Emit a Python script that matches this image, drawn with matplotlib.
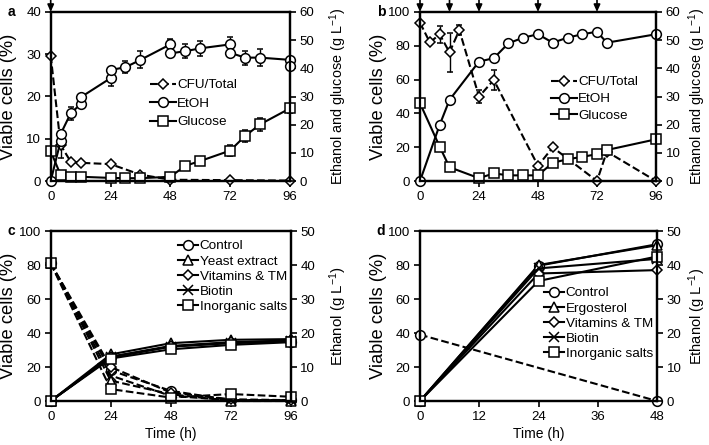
import matplotlib
matplotlib.use('Agg')
import matplotlib.pyplot as plt
from matplotlib.lines import Line2D
from matplotlib import font_manager

_names = {f.name for f in font_manager.fontManager.ttflist}
NARROW = 'Liberation Sans Narrow' in _names
if NARROW:
    HFONT = ['Liberation Sans Narrow', 'Liberation Sans', 'DejaVu Sans']
    FS_TICK, FS_LEG, FS_XLAB, FS_LET = 11.0, 11.5, 11.5, 11.0
else:
    HFONT = ['Liberation Sans', 'DejaVu Sans']
    FS_TICK, FS_LEG, FS_XLAB, FS_LET = 9.5, 9.7, 10.0, 10.0
VFONT = ['Liberation Sans', 'DejaVu Sans']

plt.rcParams.update({
    'font.family': HFONT,
    'font.size': FS_TICK,
    'mathtext.fontset': 'custom',
    'mathtext.rm': 'Liberation Sans',
    'mathtext.it': 'Liberation Sans:italic',
    'mathtext.bf': 'Liberation Sans:bold',
})

# ---------------- data ----------------
# Panel a
cfu_a_t = [0, 4, 8, 12, 24, 36, 48, 72, 96]
cfu_a = [29.7, 8.5, 4.6, 4.3, 4.0, 1.5, 0.3, 0.2, 0.1]
cfu_a_err = [0, 3.0, 0, 0, 0, 0, 0, 0, 0]
etoh_a_t = [0, 4, 4, 8, 12, 12, 24, 24, 30, 36, 48, 48, 54, 60, 72, 72, 78, 84, 96, 96]
etoh_a = [0, 14.3, 16.7, 24.0, 27.3, 29.7, 36.5, 39.4, 40.4, 43.0, 48.5, 45.3,
          46.1, 47.1, 48.5, 45.5, 43.8, 43.8, 43.0, 40.8]
etoh_a_err = [0, 0, 0, 2.3, 0, 0, 2.8, 0, 2.2, 3.0, 2.0, 0, 2.5, 2.7, 2.7, 0, 2.5, 3.0, 0, 0]
glu_a_t = [0, 4, 8, 12, 24, 30, 36, 48, 54, 60, 72, 78, 84, 96]
glu_a = [10.6, 2.1, 1.3, 1.5, 1.1, 1.0, 1.0, 1.5, 5.4, 7.1, 10.8, 16.0, 20.1, 25.8]
glu_a_err = [0, 0, 0, 0, 0, 0, 0, 0, 0, 1.2, 2.0, 2.0, 2.2, 1.5]
feed_a = [0]

# Panel b
cfu_b_t = [0, 4, 8, 12, 16, 24, 30, 48, 54, 72, 76, 96]
cfu_b = [93.7, 82.0, 86.8, 76.1, 89.3, 49.9, 59.8, 9.0, 19.9, 0.0, 17.4, 0.0]
cfu_b_err = [0, 0, 5.0, 11.5, 3.0, 4.0, 6.0, 0, 0, 0, 0, 0]
etoh_b_t = [0, 8, 12, 24, 30, 36, 42, 48, 54, 60, 66, 72, 76, 96]
etoh_b = [0, 19.9, 28.8, 42.4, 43.6, 48.9, 50.9, 52.1, 49.1, 50.9, 52.1, 53.0, 49.1, 52.1]
glu_b_t = [0, 8, 12, 24, 30, 36, 42, 48, 54, 60, 66, 72, 76, 96]
glu_b = [27.6, 12.2, 4.9, 1.0, 2.7, 2.0, 2.0, 2.0, 6.5, 7.7, 8.6, 9.5, 11.0, 14.8]
feed_b = [0, 12, 24, 48, 72]

# Panel c
t_c = [0, 24, 48, 72, 96]
labels_c = ['Control', 'Yeast extract', 'Vitamins & TM', 'Biotin', 'Inorganic salts']
via_c = {
    'Control':         [81, 18, 6, 0.5, 0.5],
    'Yeast extract':   [81, 12, 4, 0, 0],
    'Vitamins & TM':   [81, 20, 5, 1, 0.5],
    'Biotin':          [81, 15, 3, 0.5, 0.5],
    'Inorganic salts': [81, 7, 2, 4.1, 2.5],
}
eth_c = {
    'Control':         [0, 13.0, 16.0, 17.0, 17.5],
    'Yeast extract':   [0, 13.7, 17.0, 18.0, 18.2],
    'Vitamins & TM':   [0, 13.0, 16.2, 17.3, 17.8],
    'Biotin':          [0, 12.8, 16.0, 17.2, 17.7],
    'Inorganic salts': [0, 12.5, 15.2, 16.5, 17.3],
}

# Panel d
t_d = [0, 24, 48]
labels_d = ['Control', 'Ergosterol', 'Vitamins & TM', 'Biotin', 'Inorganic salts']
via_d_t = [0, 48]
via_d = [39, 0]
eth_d = {
    'Control':         [0, 39.8, 46.1],
    'Ergosterol':      [0, 40.0, 45.8],
    'Vitamins & TM':   [0, 37.5, 38.5],
    'Biotin':          [0, 39.0, 41.8],
    'Inorganic salts': [0, 35.3, 42.5],
}

markers_c = {'Control': 'o', 'Yeast extract': '^', 'Ergosterol': '^',
             'Vitamins & TM': 'D', 'Biotin': 'x', 'Inorganic salts': 's'}
msize = {'o': 7, '^': 7, 'D': 5, 'x': 6.5, 's': 7}

W, H = 709, 445
fig = plt.figure(figsize=(W / 100, H / 100), dpi=100)


def px_axes(l, t, r, b):
    return fig.add_axes([l / W, 1 - b / H, (r - l) / W, (b - t) / H])


def style(ax):
    for s in ax.spines.values():
        s.set_linewidth(1.6)
    ax.tick_params(direction='out', length=4, width=1.2, labelsize=FS_TICK, pad=3)


def mk(m):
    return dict(marker=m, markersize=msize[m], mfc='white', mec='black',
                mew=1.1, color='black', clip_on=False)


def arrows(ax, ts):
    for t in ts:
        ax.annotate('', xy=(t, 1.0), xycoords=('data', 'axes fraction'),
                    xytext=(t, 1.075), textcoords=('data', 'axes fraction'),
                    arrowprops=dict(arrowstyle='-|>,head_length=0.45,head_width=0.2',
                                    lw=1.2, color='k', shrinkA=0, shrinkB=0),
                    annotation_clip=False)


def setup(ax, ax2, xt, ylim, yt, ylim2, yt2, left_lab, right_lab, rfs, rx,
          letter, time_label):
    style(ax)
    style(ax2)
    ax.set_xlim(xt[0], xt[-1])
    ax.set_xticks(xt)
    ax.set_ylim(*ylim)
    ax.set_yticks(yt)
    ax2.set_ylim(*ylim2)
    ax2.set_yticks(yt2)
    ax.set_ylabel(left_lab, fontsize=13.2, family=VFONT)
    ax.yaxis.set_label_coords(-0.14, 0.5)
    ax2.set_ylabel(right_lab, fontsize=rfs, family=VFONT)
    ax2.yaxis.set_label_coords(rx, 0.5)
    if time_label:
        ax.set_xlabel('Time (h)', fontsize=FS_XLAB)
        ax.xaxis.set_label_coords(0.5, -0.155)
    ax.text(-0.165, 1.0, letter, transform=ax.transAxes, fontsize=FS_LET,
            fontweight='bold', ha='center', va='center', family=VFONT)


def legend(ax, handles, labels, x, y, spacing, hl):
    ax.legend(handles, labels, loc='upper left', bbox_to_anchor=(x / W, 1 - y / H),
              bbox_transform=fig.transFigure, frameon=False, fontsize=FS_LEG,
              handlelength=hl, handletextpad=0.1, labelspacing=spacing,
              borderpad=0, borderaxespad=0)


# ---------------- panel a ----------------
ax = px_axes(50.7, 12, 290, 181)
ax2 = ax.twinx()
ax.errorbar(cfu_a_t, cfu_a, yerr=cfu_a_err, ls='--', lw=1.5, capsize=2, elinewidth=1,
            **mk('D'))
ax2.errorbar(etoh_a_t, etoh_a, yerr=etoh_a_err, ls='-', lw=1.5, capsize=2, elinewidth=1,
             **mk('o'))
ax2.errorbar(glu_a_t, glu_a, yerr=glu_a_err, ls='-', lw=1.5, capsize=2, elinewidth=1,
             **mk('s'))
setup(ax, ax2, [0, 24, 48, 72, 96], (0, 40), [0, 10, 20, 30, 40], (0, 60),
      [0, 10, 20, 30, 40, 50, 60], 'Viable cells (%)',
      r'Ethanol and glucose (g L$^{-1}$)', 10.4, 1.155, 'a', False)
arrows(ax, feed_a)
h = [Line2D([], [], ls='--', lw=1.5, **mk('D')), Line2D([], [], ls='-', lw=1.5, **mk('o')),
     Line2D([], [], ls='-', lw=1.5, **mk('s'))]
legend(ax2, h, ['CFU/Total', 'EtOH', 'Glucose'], 150, 79, 0.45, 1.9)

# ---------------- panel b ----------------
ax = px_axes(420, 12, 656, 181)
ax2 = ax.twinx()
ax.errorbar(cfu_b_t, cfu_b, yerr=cfu_b_err, ls='--', lw=1.5, capsize=2, elinewidth=1,
            **mk('D'))
ax2.plot(etoh_b_t, etoh_b, ls='-', lw=1.5, **mk('o'))
ax2.plot(glu_b_t, glu_b, ls='-', lw=1.5, **mk('s'))
setup(ax, ax2, [0, 24, 48, 72, 96], (0, 100), [0, 20, 40, 60, 80, 100], (0, 60),
      [0, 10, 20, 30, 40, 50, 60], 'Viable cells (%)',
      r'Ethanol and glucose (g L$^{-1}$)', 10.4, 1.13, 'b', False)
arrows(ax, feed_b)
legend(ax2, h, ['CFU/Total', 'EtOH', 'Glucose'], 551, 76, 0.33, 1.9)

# ---------------- panel c ----------------
ax = px_axes(50.7, 231, 290.7, 401)
ax2 = ax.twinx()
for lab in labels_c:
    ax.plot(t_c, via_c[lab], ls='--', lw=1.5, **mk(markers_c[lab]))
for lab in labels_c:
    ax2.plot(t_c, eth_c[lab], ls='-', lw=1.5, **mk(markers_c[lab]))
setup(ax, ax2, t_c, (0, 100), [0, 20, 40, 60, 80, 100], (0, 50),
      [0, 10, 20, 30, 40, 50], 'Viable cells (%)', r'Ethanol (g L$^{-1}$)', 10.8, 1.152,
      'c', True)
hc = [Line2D([], [], ls='-', lw=1.5, **mk(markers_c[l])) for l in labels_c]
legend(ax2, hc, labels_c, 178, 240, 0.2, 1.5)

# ---------------- panel d ----------------
ax = px_axes(420, 231, 657, 401)
ax2 = ax.twinx()
ax.plot(via_d_t, via_d, ls='--', lw=1.5, **mk('o'))
for lab in labels_d:
    ax2.plot(t_d, eth_d[lab], ls='-', lw=1.5, **mk(markers_c[lab]))
setup(ax, ax2, [0, 12, 24, 36, 48], (0, 100), [0, 20, 40, 60, 80, 100], (0, 50),
      [0, 10, 20, 30, 40, 50], 'Viable cells (%)', r'Ethanol (g L$^{-1}$)', 10.5, 1.122,
      'd', True)
hd = [Line2D([], [], ls='-', lw=1.5, **mk(markers_c[l])) for l in labels_d]
legend(ax2, hd, labels_d, 544, 287, 0.2, 1.5)

fig.savefig('out.png', dpi=100)
